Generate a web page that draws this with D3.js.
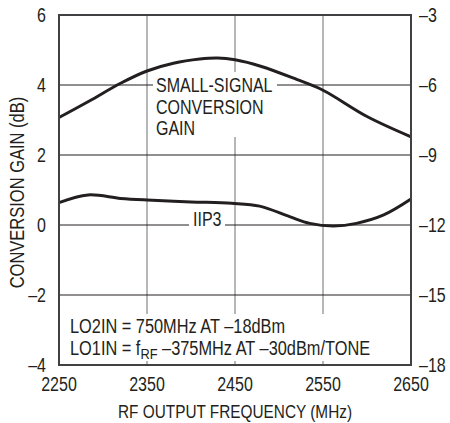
<!DOCTYPE html>
<html><head><meta charset="utf-8">
<script src="https://cdn.jsdelivr.net/npm/d3@7"></script>
<style>
body{margin:0;background:#fff;}
text{font-family:"Liberation Sans",Arial,sans-serif;fill:#231f20;}
</style></head>
<body><svg id="c" width="450" height="423"></svg>
<script>
const gainFreq = [2250, 2285, 2320, 2350, 2380, 2410, 2430, 2450, 2480, 2520, 2550, 2600, 2650];
const gainDb   = [3.07, 3.55, 4.05, 4.40, 4.62, 4.74, 4.77, 4.72, 4.53, 4.16, 3.85, 3.10, 2.52];
const iip3Freq = [2250, 2283, 2320, 2350, 2400, 2446, 2478, 2512, 2535, 2562, 2588, 2619, 2650];
const iip3Dbm  = [-11.04, -10.71, -10.86, -10.93, -11.01, -11.07, -11.19, -11.64, -11.93, -12.04, -11.93, -11.57, -10.89];
const xTicks = [2250, 2350, 2450, 2550, 2650];
const yLeftTicks = [-4, -2, 0, 2, 4, 6];
const yRightTicks = [-18, -15, -12, -9, -6, -3];

const W = 450, H = 423;
const m = {l: 59, r: 39, t: 15, b: 58};
const svg = d3.select("#c");
const x = d3.scaleLinear().domain([2250, 2650]).range([m.l, W - m.r]);
const yL = d3.scaleLinear().domain([-4, 6]).range([H - m.b, m.t]);
const yR = d3.scaleLinear().domain([-18, -3]).range([H - m.b, m.t]);
const fmt = v => (v < 0 ? "\u2013" + Math.abs(v) : String(v));
const FS = 18.5, TS = 19.3, SX = 0.83;

function label(px, py, str, anchor, size, rot) {
  const gg = svg.append("g").attr("transform", `translate(${px},${py})` + (rot ? ` rotate(${rot})` : "") + ` scale(${SX},1)`);
  return gg.append("text").attr("x", 0).attr("y", 0).attr("text-anchor", anchor || "start")
    .attr("font-size", size || FS).text(str);
}

// grid
const g = svg.append("g");
g.selectAll("line.v").data(xTicks.slice(1, -1)).enter().append("line")
  .attr("x1", d => x(d)).attr("x2", d => x(d)).attr("y1", m.t).attr("y2", H - m.b)
  .attr("stroke", "#6d6e71").attr("stroke-width", 1);
g.selectAll("line.h").data(yLeftTicks.slice(1, -1)).enter().append("line")
  .attr("x1", m.l).attr("x2", W - m.r).attr("y1", d => yL(d)).attr("y2", d => yL(d))
  .attr("stroke", "#231f20").attr("stroke-width", 1);

// white boxes behind labels
svg.append("rect").attr("x", 153).attr("y", 72).attr("width", 124).attr("height", 65).attr("fill", "#fff");
svg.append("rect").attr("x", 189).attr("y", 208).attr("width", 36).attr("height", 22).attr("fill", "#fff");
svg.append("rect").attr("x", 65).attr("y", 314).attr("width", 308).attr("height", 47).attr("fill", "#fff");

// curves
const lineG = d3.line().x(d => x(d[0])).y(d => yL(d[1])).curve(d3.curveCatmullRom.alpha(0.5));
const lineI = d3.line().x(d => x(d[0])).y(d => yR(d[1])).curve(d3.curveCatmullRom.alpha(0.5));
svg.append("path").datum(gainFreq.map((f, i) => [f, gainDb[i]])).attr("d", lineG)
  .attr("fill", "none").attr("stroke", "#231f20").attr("stroke-width", 3);
svg.append("path").datum(iip3Freq.map((f, i) => [f, iip3Dbm[i]])).attr("d", lineI)
  .attr("fill", "none").attr("stroke", "#231f20").attr("stroke-width", 3);

// border
svg.append("rect").attr("x", m.l).attr("y", m.t).attr("width", W - m.l - m.r).attr("height", H - m.t - m.b)
  .attr("fill", "none").attr("stroke", "#414042").attr("stroke-width", 2);

// axes labels
yLeftTicks.forEach(v => label(46, yL(v) + 6.9, fmt(v), "end", TS));
yRightTicks.forEach(v => label(419, yR(v) + 6.9, fmt(v), "start", TS));
xTicks.forEach(v => label(x(v), 391, String(v), "middle", TS));
label((m.l + W - m.r) / 2, 418, "RF OUTPUT FREQUENCY (MHz)", "middle");
label(24, 192.5, "CONVERSION GAIN (dB)", "middle", 19.9, -90);

// annotations
["SMALL-SIGNAL", "CONVERSION", "GAIN"].forEach((s, i) => label(156, 92 + i * 21.5, s, "start", FS + 0.8));
label(193, 226, "IIP3", "start", FS + 0.8);
label(70, 333, "LO2IN = 750MHz AT \u201318dBm", "start", 19.7);
const t2 = label(70, 355, "", "start", 19.7);
t2.append("tspan").text("LO1IN = f");
t2.append("tspan").attr("font-size", 15.5).attr("dy", 4).text("RF");
t2.append("tspan").attr("dy", -4).text(" \u2013375MHz AT \u201330dBm/TONE");
</script></body></html>
